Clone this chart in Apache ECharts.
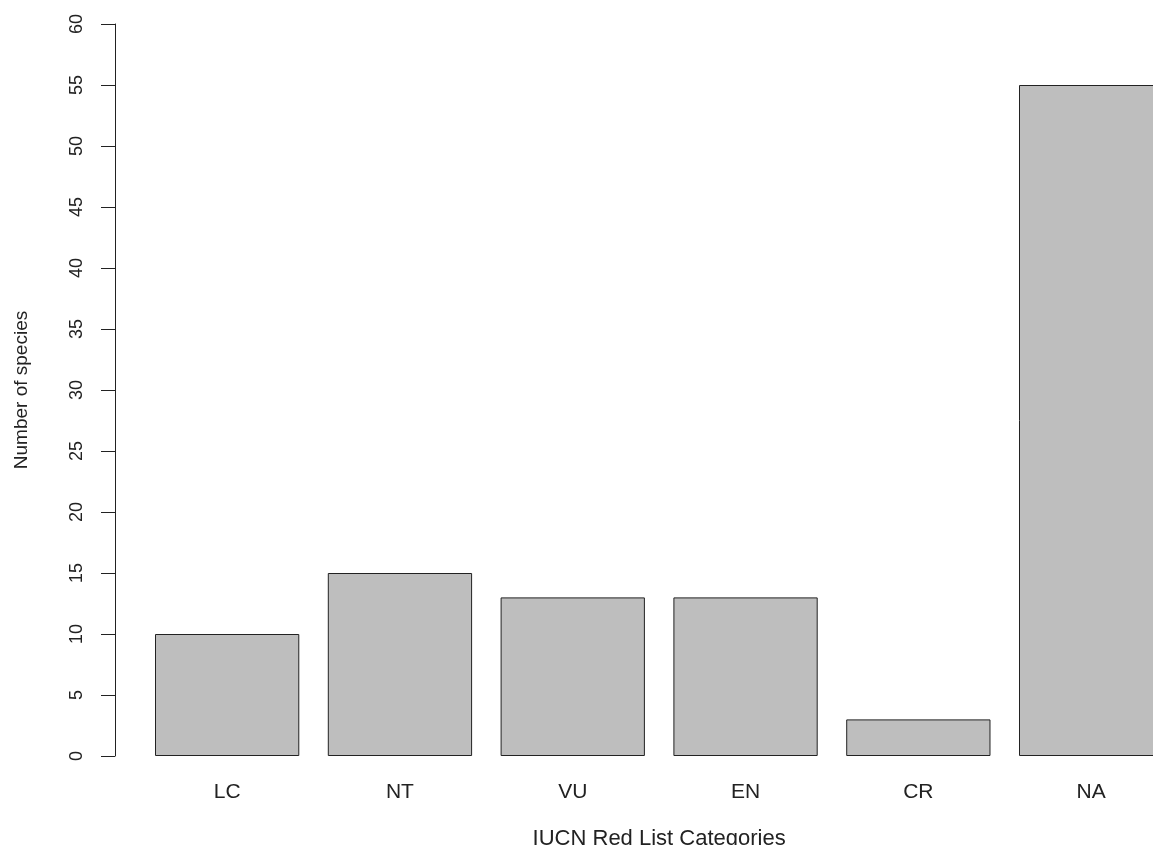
<!DOCTYPE html>
<html>
<head>
<meta charset="utf-8">
<script src="https://cdn.jsdelivr.net/npm/echarts@6/dist/echarts.min.js"></script>
<style>html,body{margin:0;padding:0;background:#fff}#c{width:1153px;height:845px}</style>
</head>
<body>
<div id="c"></div>
<script>
const categories = ['LC', 'NT', 'VU', 'EN', 'CR', 'NA'];
const speciesCounts = [10, 15, 13, 13, 3, 55];
const yTicks = [0, 5, 10, 15, 20, 25, 30, 35, 40, 45, 50, 55, 60];

const chart = echarts.init(document.getElementById('c'), null, {renderer: 'canvas'});
const font = '"Liberation Sans", Arial, sans-serif';
chart.setOption({
  animation: false,
  backgroundColor: '#ffffff',
  grid: {left: 140.75, width: 1036.8, top: 24, height: 732, containLabel: false, outerBoundsMode: 'none'},
  xAxis: {
    type: 'category',
    data: categories,
    axisLine: {show: false},
    axisTick: {show: false},
    axisLabel: {fontFamily: font, fontSize: 21, color: '#222', margin: 26},
    name: 'IUCN Red List Categories',
    nameLocation: 'middle',
    nameGap: 72,
    nameTextStyle: {fontFamily: font, fontSize: 22, color: '#222'}
  },
  yAxis: {
    type: 'value',
    min: yTicks[0],
    max: yTicks[yTicks.length - 1],
    interval: yTicks[1] - yTicks[0],
    offset: 25.75,
    splitLine: {show: false},
    axisLine: {show: true, lineStyle: {color: '#222', width: 1}},
    axisTick: {show: true, length: 14, lineStyle: {color: '#222', width: 1}},
    axisLabel: {fontFamily: font, fontSize: 18, color: '#222', rotate: 90, margin: 29},
    name: 'Number of species',
    nameLocation: 'middle',
    nameRotate: 90,
    nameGap: 84,
    nameTextStyle: {fontFamily: font, fontSize: 19, color: '#222'}
  },
  series: [{
    type: 'bar',
    data: speciesCounts,
    barCategoryGap: '16.5%',
    itemStyle: {color: '#bebebe', borderColor: '#222', borderWidth: 1}
  }]
});
</script>
</body>
</html>
